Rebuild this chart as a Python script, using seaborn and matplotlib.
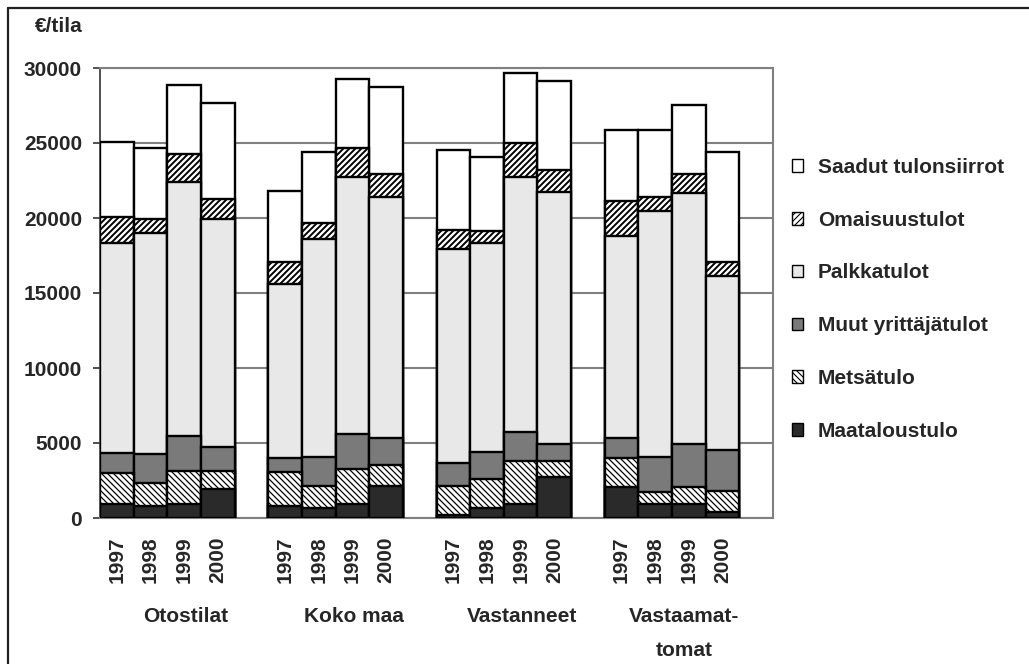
import numpy as np
import pandas as pd
import matplotlib
matplotlib.use("Agg")
import matplotlib.pyplot as plt
from matplotlib.patches import Patch
from matplotlib.lines import Line2D
import seaborn as sns

# ---- data (€/tila) ----
groups = ["Otostilat", "Koko maa", "Vastanneet", "Vastaamat-\ntomat"]
years = ["1997", "1998", "1999", "2000"]
components = ["Maataloustulo", "Metsätulo", "Muut yrittäjätulot",
              "Palkkatulot", "Omaisuustulot", "Saadut tulonsiirrot"]

maataloustulo = [930, 820, 930, 1910,   800, 690, 930, 2160,   180, 690, 930, 2760,   2040, 930, 930, 420]
metsatulo     = [2050, 1490, 2200, 1250, 2290, 1470, 2340, 1370, 1980, 1890, 2890, 1060, 1940, 830, 1160, 1380]
muut_yritt    = [1380, 1930, 2340, 1600, 890, 1930, 2330, 1780,  1530, 1800, 1890, 1110, 1330, 2330, 2840, 2730]
palkkatulot   = [13950, 14740, 16910, 15170, 11640, 14490, 17160, 16110, 14220, 13930, 17050, 16780, 13510, 16400, 16760, 11600]
omaisuustulot = [1780, 950, 1890, 1340, 1450, 1060, 1880, 1490, 1290, 820, 2220, 1490, 2310, 930, 1220, 960]
tulonsiirrot  = [5000, 4710, 4600, 6370, 4730, 4740, 4630, 5800, 5330, 4960, 4710, 5960, 4740, 4450, 4620, 7290]

series = [maataloustulo, metsatulo, muut_yritt, palkkatulot, omaisuustulot, tulonsiirrot]

# render at 90 dpi so that hatch spacing falls on whole pixels
DPI = 90
K = 100 / DPI  # point scaling to keep the same pixel sizes as at 100 dpi

# styles (bottom -> top)
fills = ["#2a2a2a", "#ffffff", "#7a7a7a", "#e8e8e8", "#ffffff", "#ffffff"]
hatches = [None, "\\" * 5, None, None, "/" * 5, None]
hatch_lw = [0.8, 0.9, 0.8, 0.8, 1.4, 0.8]

FONT = ["Liberation Sans", "DejaVu Sans"]
FS = 15 * K
sns.set_theme(style="white")
plt.rcParams["font.family"] = FONT
plt.rcParams["font.weight"] = "bold"

# positions: 4 bars per group, one empty slot between groups
pos = []
for g in range(len(groups)):
    for k in range(len(years)):
        pos.append(g * 5 + k)
pos = np.array(pos, dtype=float)

df = pd.DataFrame({"pos": pos})
cum = np.cumsum(np.array(series, dtype=float), axis=0)
for i, c in enumerate(components):
    df[c] = cum[i]

fig = plt.figure(figsize=(1029 / DPI, 664 / DPI), dpi=DPI)
ax = fig.add_axes([100 / 1029, 1 - 518 / 664, 673 / 1029, 450 / 664])

for i in range(len(components) - 1, -1, -1):
    plt.rcParams["hatch.linewidth"] = hatch_lw[i] * K
    kw = dict(hatch=hatches[i]) if hatches[i] else {}
    sns.barplot(data=df, x="pos", y=components[i], native_scale=True, orient="x",
                width=1.0, color=fills[i], saturation=1, edgecolor="black",
                linewidth=1.7 * K, errorbar=None, ax=ax, zorder=3, **kw)

ax.set_xlim(-0.5, 19.5)
ax.set_ylim(0, 30000)
ax.set_yticks(np.arange(0, 30001, 5000))
ax.set_yticklabels([str(v) for v in range(0, 30001, 5000)], fontsize=FS, fontweight="bold")
ax.yaxis.grid(True, color="#808080", linewidth=1.5 * K, zorder=0)
ax.set_axisbelow(True)
ax.tick_params(axis="y", direction="out", length=5 * K, width=1.2 * K, color="#333333",
               pad=8 * K, left=True)
ax.set_xticks(pos)
ax.set_xticklabels(years * len(groups), rotation=90, fontsize=FS, fontweight="bold", va="top")
ax.tick_params(axis="x", length=0, pad=13 * K)
ax.set_xlabel("")
ax.set_ylabel("")
for side in ["top", "right", "bottom"]:
    ax.spines[side].set_color("#808080")
    ax.spines[side].set_linewidth(1.5 * K)
ax.spines["left"].set_color("#333333")
ax.spines["left"].set_linewidth(1.2 * K)

# group labels
offsets = [0.55, 0.55, 0.55, 0.35]
for g, name in enumerate(groups):
    xc = g * 5 + 1.5 + offsets[g]
    ax.text(xc, -0.198, name, transform=ax.get_xaxis_transform(), ha="center", va="top",
            fontsize=FS, fontweight="bold", linespacing=2.0)

fig.text(35 / 1029, 1 - 27 / 664, "€/tila", ha="left", va="center", fontsize=FS, fontweight="bold")

# legend (top -> bottom)
handles = []
for i in range(len(components) - 1, -1, -1):
    plt.rcParams["hatch.linewidth"] = hatch_lw[i] * K
    handles.append(Patch(facecolor=fills[i], edgecolor="black", hatch=hatches[i],
                         linewidth=1.0 * K, label=components[i]))
fig.legend(handles=handles, loc="upper left", bbox_to_anchor=(792 / 1029, 1 - 158 / 664),
           frameon=False, handlelength=0.55, handleheight=0.55,
           handletextpad=0.7, labelspacing=1.62, borderaxespad=0, borderpad=0,
           prop={"family": FONT, "weight": "bold", "size": FS})

# outer frame (top & left)
fig.add_artist(Line2D([7.5 / 1029, 1], [1 - 7.5 / 664, 1 - 7.5 / 664], color="#222222",
                      linewidth=1.6 * K, transform=fig.transFigure))
fig.add_artist(Line2D([7.5 / 1029, 7.5 / 1029], [0, 1 - 7.5 / 664], color="#222222",
                      linewidth=1.6 * K, transform=fig.transFigure))

fig.savefig("out.png", dpi=DPI, facecolor="white")
